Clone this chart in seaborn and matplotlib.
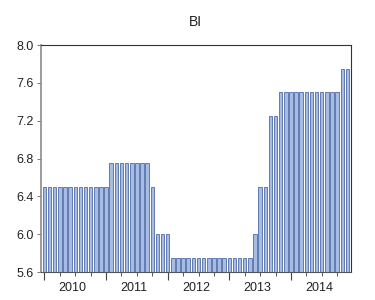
import numpy as np
import pandas as pd
import matplotlib
matplotlib.use("Agg")
import matplotlib.pyplot as plt
import seaborn as sns

# BI rate, monthly 2010M01 - 2014M12
years = ["2010", "2011", "2012", "2013", "2014"]
bi_2010 = [6.5] * 12
bi_2011 = [6.5] + [6.75] * 8 + [6.5, 6.0, 6.0]
bi_2012 = [6.0] + [5.75] * 11
bi_2013 = [5.75] * 5 + [6.0, 6.5, 6.5, 7.25, 7.25, 7.5, 7.5]
bi_2014 = [7.5] * 10 + [7.75, 7.75]

values = bi_2010 + bi_2011 + bi_2012 + bi_2013 + bi_2014
df = pd.DataFrame({"t": np.arange(len(values)), "BI": values})

sns.set_style("white")
plt.rcParams["font.family"] = ["Liberation Sans", "DejaVu Sans"]

fig = plt.figure(figsize=(3.75, 3.0), dpi=100)
ax = fig.add_axes([0.109, 0.093, 0.827, 0.757])

sns.barplot(data=df, x="t", y="BI", ax=ax, color="#a6bce4",
            saturation=1, width=0.68, edgecolor="#4f6ca6", linewidth=0.6)
# bars start from the axis floor
for p in ax.patches:
    p.set_y(5.6)
    p.set_height(p.get_height() - 5.6)

ax.set_ylim(5.6, 8.0)
ax.set_xlim(-0.7, len(values) - 0.3)
ax.set_yticks(np.arange(5.6, 8.01, 0.4))
ax.set_yticklabels([f"{v:.1f}" for v in np.arange(5.6, 8.01, 0.4)])

# year labels centred, quarter ticks
ax.set_xticks([12 * i + 5.5 for i in range(len(years))], years)
ax.set_xticks([12 * i + q for i in range(len(years)) for q in (3, 6, 9)], minor=True)
ax.tick_params(axis="x", which="major", length=0, pad=7, labelsize=9, colors="#222222")
ax.tick_params(axis="x", which="minor", length=3, width=0.7, color="#555555", direction="out", bottom=True)
ax.tick_params(axis="y", length=3, width=0.7, color="#777777", direction="out", left=True,
               labelsize=9, labelcolor="#222222", pad=2)

sec = ax.secondary_xaxis("bottom")
sec.set_xticks([12 * i for i in range(len(years))])
sec.set_xticklabels([])
sec.tick_params(length=6, width=0.8, color="#444444", direction="out")
sec.spines["bottom"].set_visible(False)

ax.set_xlabel("")
ax.set_ylabel("")
ax.set_title("BI", fontsize=10, pad=14, color="#222222")

ax.spines["left"].set_color("#8a8a8a")
ax.spines["left"].set_linewidth(1.2)
ax.spines["bottom"].set_color("#555555")
ax.spines["top"].set_color("#333333")
ax.spines["right"].set_color("#333333")
for s in ax.spines.values():
    s.set_visible(True)

fig.savefig("out.png", dpi=100)
